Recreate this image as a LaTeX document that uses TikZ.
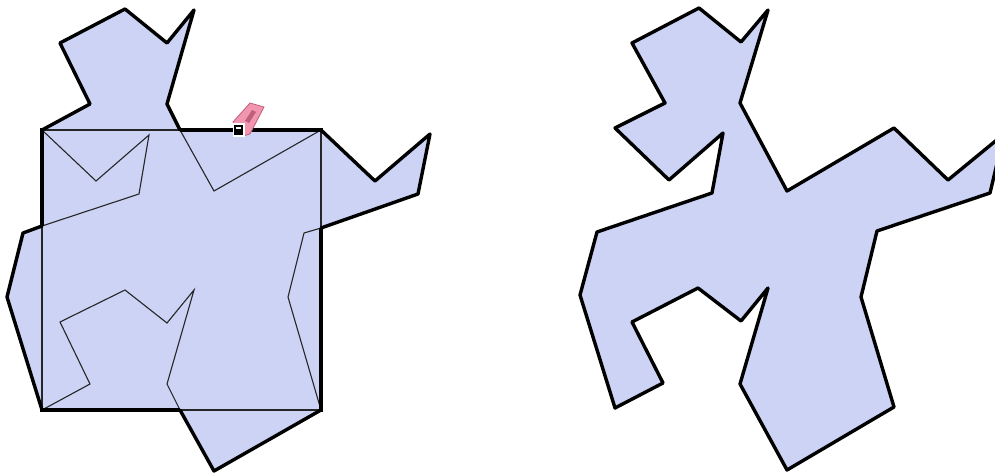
\documentclass[tikz,border=0pt]{standalone}
\definecolor{shapefill}{RGB}{204,211,244}
\definecolor{erasepink}{RGB}{242,150,176}
\definecolor{erasedark}{RGB}{190,95,125}
\tikzset{
  x=1pt,y=-1pt,
  body/.style={fill=shapefill,draw=none},
  thinline/.style={draw=black!85,line width=1.1pt,line join=miter},
  thickline/.style={draw=black,line width=3.4pt,line join=round,line cap=round}
}
\begin{document}
\begin{tikzpicture}
\useasboundingbox (0,0) rectangle (995,476);
\clip (0,0) rectangle (995,476);
% left: polygon with square
\fill[body] (42,130) -- (96,181) -- (149,135) -- (139,194) -- (23,233) -- (7,297) -- (42,410) -- (90,384) -- (60,322) -- (125,290) -- (167,323) -- (194,290) -- (167,384) -- (214,471) -- (321,410) -- (288,297) -- (304,233) -- (418,194) -- (430,134) -- (375,181) -- (321,130) -- (214,191) -- (167,104) -- (194,10) -- (167,43) -- (125,9) -- (60,43) -- (90,104) -- cycle;
\fill[body] (42,130) rectangle (321,410);
\draw[thinline] (42,130) -- (96,181) -- (149,135) -- (139,194) -- (42,226);
\draw[thinline] (42,410) -- (90,384) -- (60,322) -- (125,290) -- (167,323) -- (194,290) -- (167,384) -- (180,410);
\draw[thinline] (321,410) -- (288,297) -- (304,233) -- (321,228);
\draw[thinline] (321,130) -- (214,191) -- (180,130);
\draw[thinline] (42,130) -- (180,130);
\draw[thinline] (321,130) -- (321,228);
\draw[thinline] (180,410) -- (321,410);
\draw[thinline] (42,226) -- (42,410);
% left: outer outline
\draw[thickline] (180,130) -- (167,104) -- (194,10) -- (167,43) -- (125,9) -- (60,43) -- (90,104) -- (42,130);
\draw[thickline] (42,226) -- (23,233) -- (7,297) -- (42,410);
\draw[thickline] (180,410) -- (214,471) -- (321,410);
\draw[thickline] (321,228) -- (418,194) -- (430,134) -- (375,181) -- (321,130);
\draw[thickline,line width=4.2pt,line cap=butt] (42,128) -- (42,226);
\draw[thickline,line width=4.2pt,line cap=butt] (40,410) -- (180,410);
\draw[thickline,line width=4.2pt,line cap=butt] (321,228) -- (321,412);
\draw[thickline,line width=4.2pt,line cap=butt] (180,130) -- (323,130);
% eraser
\fill[erasepink,draw=erasedark,line width=0.8pt] (233,122) -- (250,103) -- (264,107) -- (250,134) -- (243,136) -- cycle;
\fill[erasedark] (245,121) -- (252,110) -- (256,112) -- (249,123) -- cycle;
\fill[white] (232.5,123.5) rectangle (244.5,136.5);
\fill[black] (234,125) rectangle (243,135);
\fill[white] (236,127.5) rectangle (241,129);
% right polygon
\path[body,thickline,fill=shapefill] (615,128) -- (665,103) -- (632,43) -- (699,8) -- (741,42) -- (768,10) -- (740,103) -- (787,191) -- (894,128) -- (948,180) -- (1004,134) -- (990,193) -- (877,231) -- (861,297) -- (894,407) -- (787,470) -- (740,384) -- (768,288) -- (741,321) -- (698,288) -- (632,322) -- (663,383) -- (615,408) -- (580,295) -- (597,232) -- (712,193) -- (723,133) -- (669,180) -- cycle;
\end{tikzpicture}
\end{document}
